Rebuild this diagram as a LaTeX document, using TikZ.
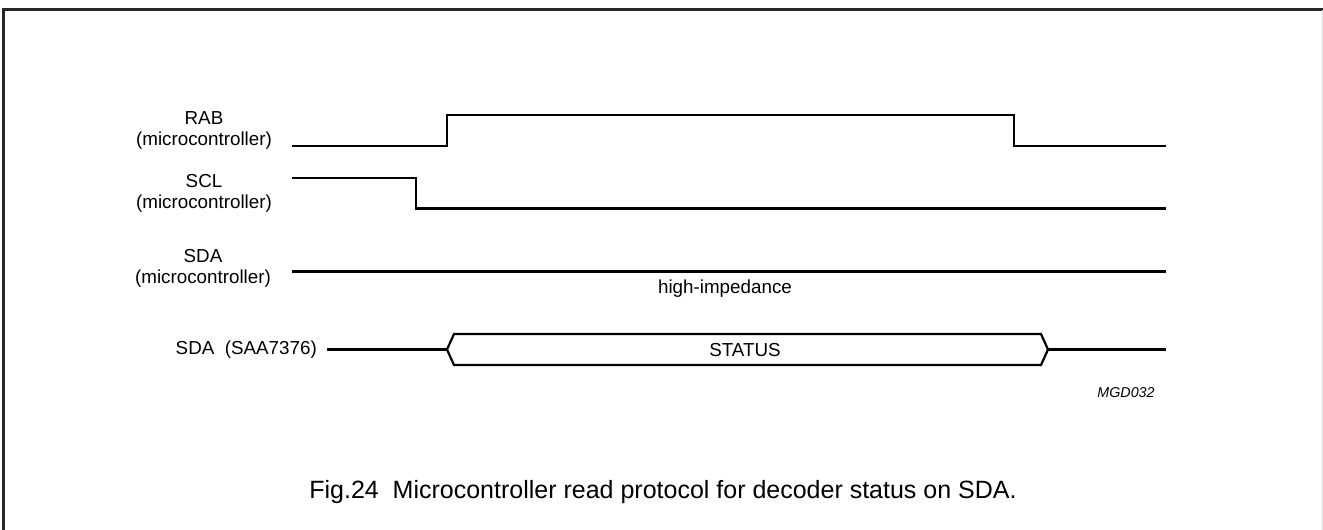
\documentclass[tikz,border=0pt]{standalone}
\usepackage{fontspec}
\setmainfont{Liberation Sans}
\begin{document}
\begin{tikzpicture}[x=1pt,y=-1pt,
  sig/.style={line width=2.2pt, line join=miter, line cap=butt},
  frame/.style={line width=2.4pt, draw=black!85},
  faintedge/.style={line width=1pt, draw=black!12},
  lbl/.style={font=\fontsize{18.8}{21}\selectfont, align=center, inner sep=0pt},
  captext/.style={font=\fontsize{25}{30}\selectfont, inner sep=0pt},
  tagtext/.style={font=\fontsize{14.3}{17}\selectfont\itshape, inner sep=0pt}]
\useasboundingbox (0,0) rectangle (1323,530);
% frame (bottom edge lies outside the picture, right edge cut at the border)
\draw[frame] (3.5,530) -- (3.5,9.5) -- (1323,9.5);
\draw[faintedge] (1322.5,9.5) -- (1322.5,530);
% labels
\node[lbl] (rab) at (204,130) {RAB\\(microcontroller)};
\node[lbl] (scl) at (204,193) {SCL\\(microcontroller)};
\node[lbl] (sdam) at (203,268) {SDA\\(microcontroller)};
\node[lbl, anchor=east] (sdas) at (317,350) {SDA\ \ (SAA7376)};
\node[lbl] (hiz) at (725,289) {high-impedance};
\node[lbl] (status) at (745,350) {STATUS};
\node[tagtext] (mgd) at (1126,393) {MGD032};
\node[captext] (caption) at (663,492) {Fig.24\ \ Microcontroller read protocol for decoder status on SDA.};
% RAB
\coordinate (rab0) at (292,146);
\coordinate (rab1) at (1166,146);
\draw[sig] (rab0) -- (447,146) -- (447,115) -- (1014,115) -- (1014,146) -- (rab1);
% SCL
\coordinate (scl0) at (292,178);
\coordinate (scl1) at (1166,208.5);
\draw[sig] (scl0) -- (416,178) -- (416,208.5) -- (scl1);
% SDA microcontroller
\coordinate (sdam0) at (292,271.5);
\coordinate (sdam1) at (1166,271.5);
\draw[sig] (sdam0) -- (sdam1);
% SDA SAA7376 bus
\coordinate (sdas0) at (327,349.5);
\coordinate (busL) at (447,349.5);
\coordinate (busR) at (1048,349.5);
\coordinate (sdas1) at (1166,349.5);
\draw[sig] (sdas0) -- (busL);
\draw[sig] (busL) -- (454,334) -- (1041,334) -- (busR) -- (1041,365) -- (454,365) -- cycle;
\draw[sig] (busR) -- (sdas1);
\end{tikzpicture}
\end{document}
